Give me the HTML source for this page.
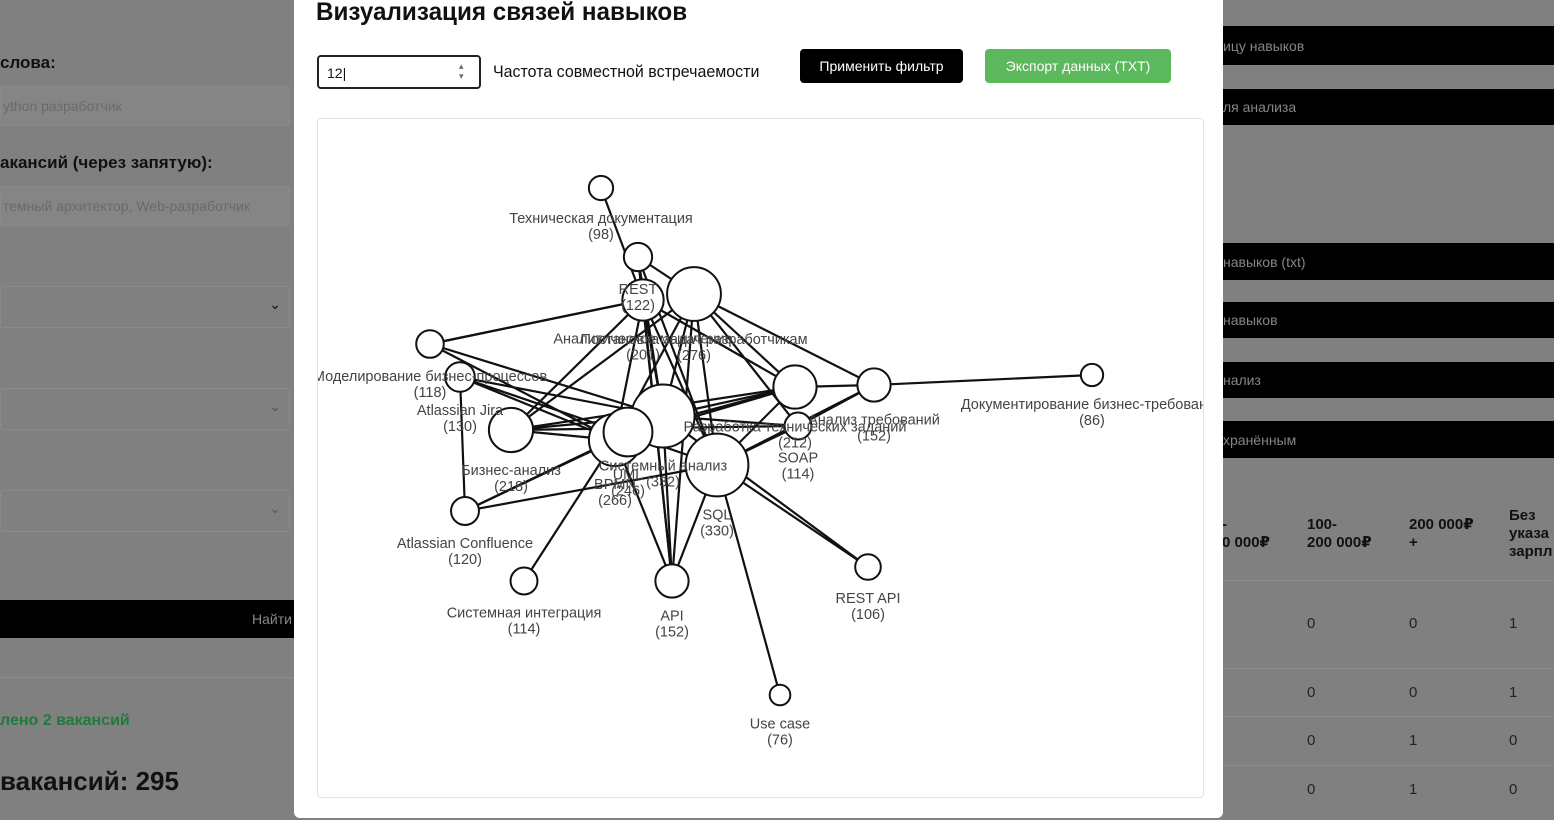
<!DOCTYPE html>
<html><head><meta charset="utf-8">
<style>
*{box-sizing:border-box;margin:0;padding:0}
body{width:1554px;height:820px;overflow:hidden;background:#808080;font-family:"Liberation Sans","DejaVu Sans",sans-serif;position:relative}
.abs{position:absolute}
.bar{position:absolute;left:1223px;width:331px;background:#000;color:#858585;font-size:14px;padding-left:0;display:flex;align-items:center;white-space:nowrap}
.lin{position:absolute;left:0;width:290px;background:#858585;border:1px solid #8a8a8a;border-radius:3px;color:#6a6a6a;font-size:14px;padding-left:2px;display:flex;align-items:center}
.sel{position:absolute;left:0;width:290px;height:42px;border:1px solid #8a8a8a;border-radius:3px}
.lbl{position:absolute;font-weight:bold;font-size:17px;color:#111}
.cell{position:absolute;font-size:15px;color:#222}
.hd{position:absolute;font-size:15px;font-weight:bold;color:#111;line-height:18px}
</style></head><body>
<div class="lbl" style="left:0;top:53px">слова:</div>
<div class="lin" style="top:86px;height:40px">ython разработчик</div>
<div class="lbl" style="left:0;top:153px">акансий (через запятую):</div>
<div class="lin" style="top:186px;height:40px">темный архитектор, Web-разработчик</div>
<div class="sel" style="top:286px"><span class="abs" style="right:8px;top:9px;font-size:14px;color:#111">⌄</span></div>
<div class="sel" style="top:388px"><span class="abs" style="right:8px;top:9px;font-size:14px;color:#555">⌄</span></div>
<div class="sel" style="top:490px"><span class="abs" style="right:8px;top:9px;font-size:14px;color:#555">⌄</span></div>
<div class="abs" style="left:0;top:600px;width:294px;height:38px;background:#000"><span class="abs" style="left:252px;top:11px;color:#888;font-size:14px">Найти</span></div>
<div class="abs" style="left:0;top:677px;width:294px;height:1px;background:#8c8c8c"></div>
<div class="abs" style="left:0;top:712px;color:#1f7a3e;font-weight:bold;font-size:16px">лено 2 вакансий</div>
<div class="abs" style="left:0;top:766px;color:#111;font-weight:bold;font-size:26px">вакансий: 295</div>
<div class="bar" style="top:26px;height:39px">ицу навыков</div>
<div class="bar" style="top:89px;height:36px">ля анализа</div>
<div class="bar" style="top:243px;height:37px">навыков (txt)</div>
<div class="bar" style="top:302px;height:36px">навыков</div>
<div class="bar" style="top:362px;height:36px">нализ</div>
<div class="bar" style="top:421px;height:37px">хранённым</div>
<div class="hd" style="left:1222px;top:516px">-<br>0 000₽</div>
<div class="hd" style="left:1307px;top:516px">100-<br>200 000₽</div>
<div class="hd" style="left:1409px;top:516px">200 000₽<br>+</div>
<div class="hd" style="left:1509px;top:507px">Без<br>указа<br>зарпл</div>
<div class="abs" style="left:1223px;top:580px;width:331px;height:1px;background:#8c8c8c"></div>
<div class="abs" style="left:1223px;top:668px;width:331px;height:1px;background:#8c8c8c"></div>
<div class="abs" style="left:1223px;top:716px;width:331px;height:1px;background:#8c8c8c"></div>
<div class="abs" style="left:1223px;top:765px;width:331px;height:1px;background:#8c8c8c"></div>
<div id="cells"></div>
<div class="abs" style="left:294px;top:-10px;width:929px;height:828px;background:#fff;border-radius:6px">
 <div class="abs" style="left:22px;top:8px;font-size:25px;font-weight:bold;color:#111;transform:scaleX(0.97);transform-origin:left">Визуализация связей навыков</div>
 <div class="abs" style="left:23px;top:65px;width:164px;height:34px;border:2px solid #222;border-radius:4px">
  <span class="abs" style="left:8px;top:8px;font-size:14px;color:#111">12|</span>
  <span class="abs" style="left:140px;top:4px;font-size:9px;color:#666;line-height:10px">▴<br>▾</span>
 </div>
 <div class="abs" style="left:199px;top:72px;font-size:17px;color:#111;transform:scaleX(0.94);transform-origin:left">Частота совместной встречаемости</div>
 <div class="abs" style="left:506px;top:59px;width:163px;height:34px;background:#000;border-radius:4px;color:#fff;font-size:14px;text-align:center;line-height:34px">Применить фильтр</div>
 <div class="abs" style="left:691px;top:59px;width:186px;height:34px;background:#5cb85c;border-radius:4px;color:#fff;font-size:14px;text-align:center;line-height:34px">Экспорт данных (TXT)</div>
 <div class="abs" style="left:23px;top:128px;width:887px;height:680px;border:1px solid #e3e3e3;border-radius:4px"></div>
</div>
<svg class="abs" style="left:0;top:0" width="1554" height="820">
 <defs><clipPath id="cp"><rect x="318" y="119" width="885" height="677"/></clipPath></defs>
 <g id="g" clip-path="url(#cp)"></g>
</svg>
<script>
const skillNames=["Техническая документация","REST","Аналитическое мышление","Постановка задач разработчикам","Моделирование бизнес-процессов","Atlassian Jira","Бизнес-анализ","Atlassian Confluence","Системная интеграция","API","Use case","REST API","SQL","Системный анализ","BPMN","UML","Разработка технических заданий","SOAP","Анализ требований","Документирование бизнес-требований"];
const skillCounts=[98,122,201,276,118,130,218,120,114,152,76,106,330,332,266,246,212,114,152,86];
const layoutX=[601,638,643,694,430,460,511,465,524,672,780,868,717,663,615,628,795,798,874,1092];
const layoutY=[188,257,300,294,344,377,430,511,581,581,695,567,465,416,440,432,387,426,385,375];
const edgeSource=[0,1,1,1,1,1,2,2,2,2,2,2,2,3,3,3,3,3,3,3,3,4,4,5,5,5,5,6,6,6,6,7,7,7,8,9,9,9,10,11,11,12,12,12,13,13,14,15,16,18,17,4];
const edgeTarget=[2,3,2,13,12,9,4,6,13,14,12,9,16,13,12,14,16,18,9,6,17,14,2,7,13,14,12,13,16,17,14,14,12,13,14,13,14,12,12,12,13,16,17,18,16,17,16,16,18,19,18,13];
const radius=v=>4+v*0.083;
const g=document.getElementById('g');
const NS='http://www.w3.org/2000/svg';
for(let i=0;i<edgeSource.length;i++){
 const a=edgeSource[i],b=edgeTarget[i];
 const l=document.createElementNS(NS,'line');
 l.setAttribute('x1',layoutX[a]);l.setAttribute('y1',layoutY[a]);
 l.setAttribute('x2',layoutX[b]);l.setAttribute('y2',layoutY[b]);
 l.setAttribute('stroke','#111');l.setAttribute('stroke-width','2.2');
 
 
 g.appendChild(l);
}
for(let i=0;i<skillNames.length;i++){
 const c=document.createElementNS(NS,'circle');
 const r=radius(skillCounts[i]);
 c.setAttribute('cx',layoutX[i]);c.setAttribute('cy',layoutY[i]);c.setAttribute('r',r);
 c.setAttribute('fill','#fff');c.setAttribute('stroke','#111');c.setAttribute('stroke-width','2');
 
 
 g.appendChild(c);
}
for(let i=0;i<skillNames.length;i++){
 const r=radius(skillCounts[i]);
 const t=document.createElementNS(NS,'text');
 t.setAttribute('x',layoutX[i]);t.setAttribute('y',layoutY[i]+r+23);
 t.setAttribute('text-anchor','middle');t.setAttribute('font-size','14.5');t.setAttribute('fill','#444');
 t.setAttribute('font-family','Liberation Sans, sans-serif');
 
 
 t.textContent=skillNames[i];
 const t2=document.createElementNS(NS,'text');
 t2.setAttribute('x',layoutX[i]);t2.setAttribute('y',layoutY[i]+r+39);
 t2.setAttribute('text-anchor','middle');t2.setAttribute('font-size','14.5');t2.setAttribute('fill','#444');
 t2.setAttribute('font-family','Liberation Sans, sans-serif');
 
 
 t2.textContent='('+skillCounts[i]+')';
 g.appendChild(t);g.appendChild(t2);
}
const tableVals=[[0,0,1],[0,0,1],[0,1,0],[0,1,0]];
const rowY=[615,684,732,781];
const cells=document.getElementById('cells');
tableVals.forEach((row,ri)=>row.forEach((v,ci)=>{
 const d=document.createElement('div');
 d.className='cell';
 d.style.left=[1307,1409,1509][ci]+'px';d.style.top=rowY[ri]+'px';
 d.textContent=v;
 
 
 cells.appendChild(d);
}));
</script>
</body></html>
